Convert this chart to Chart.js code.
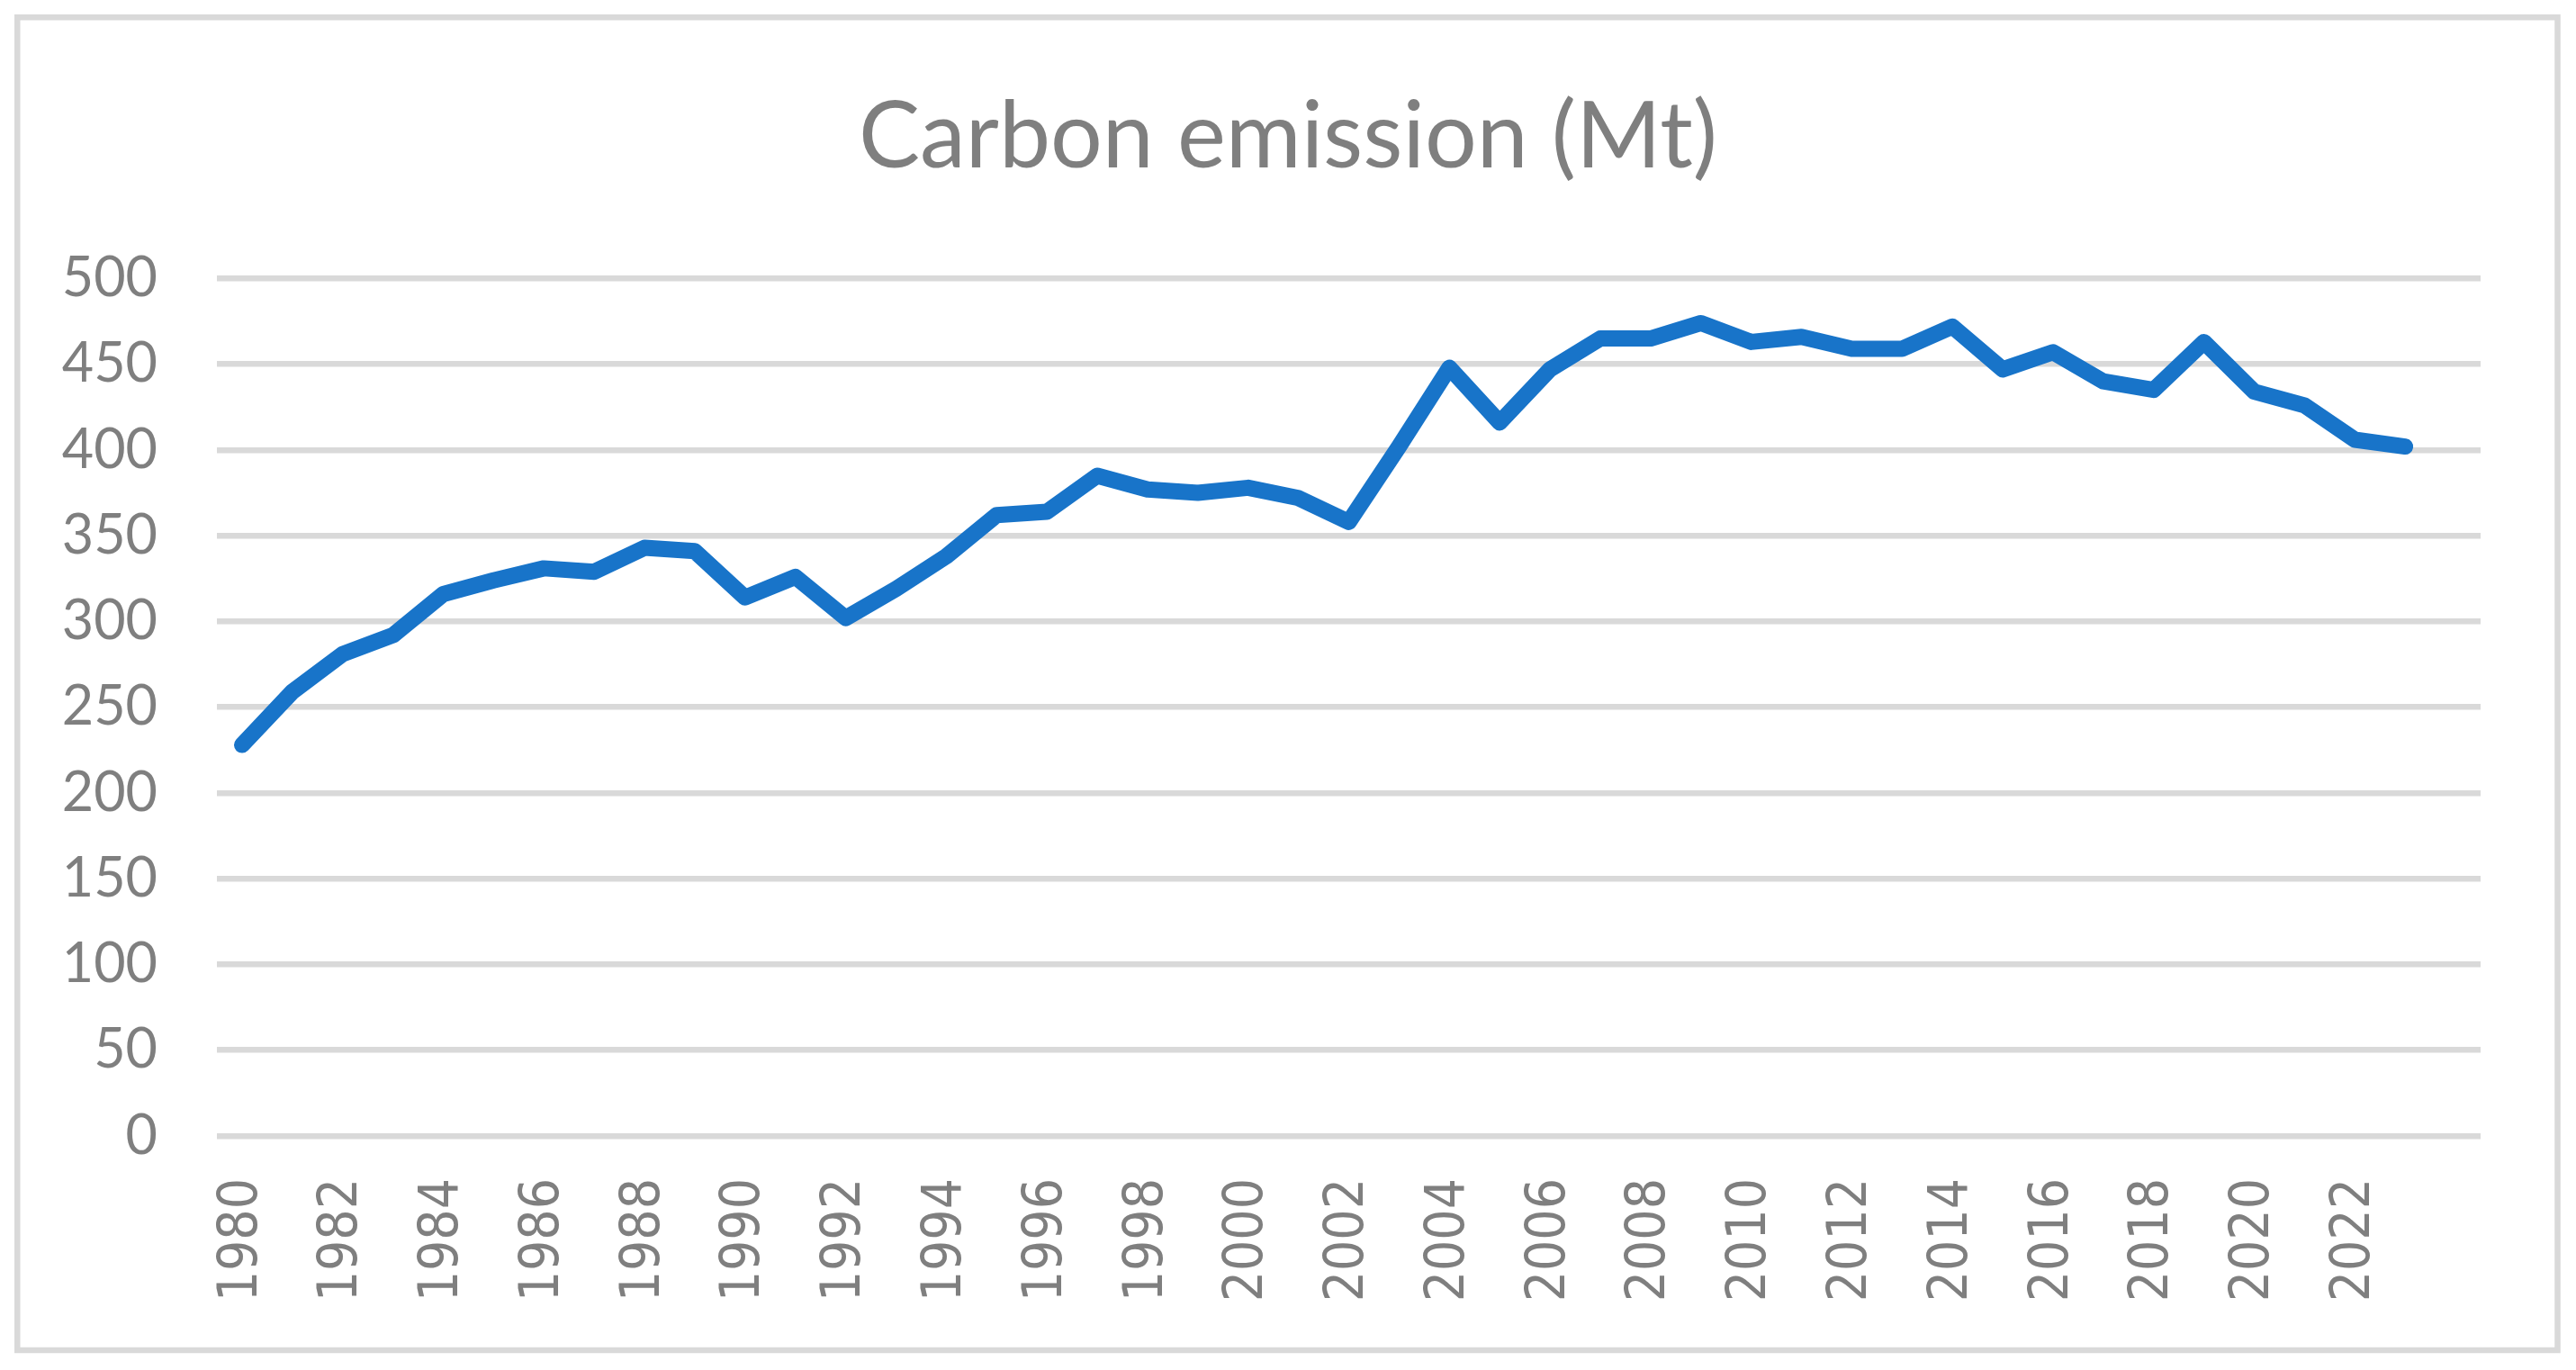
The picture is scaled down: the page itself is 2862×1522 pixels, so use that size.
<!DOCTYPE html>
<html>
<head>
<meta charset="utf-8">
<style>
  html, body { margin: 0; padding: 0; background: #ffffff; }
  #wrap { width: 2862px; height: 1522px; }
</style>
<script src="https://cdn.jsdelivr.net/npm/chart.js@4"></script>
</head>
<body>
<div id="wrap"><canvas id="c" width="2862" height="1522"></canvas></div>
<script>
// ---- data ----
const years = [
  '1980','1981','1982','1983','1984','1985','1986','1987','1988','1989',
  '1990','1991','1992','1993','1994','1995','1996','1997','1998','1999',
  '2000','2001','2002','2003','2004','2005','2006','2007','2008','2009',
  '2010','2011','2012','2013','2014','2015','2016','2017','2018','2019',
  '2020','2021','2022','2023',''
];
const emissions = [
  228, 259, 281, 292, 316, 324, 331, 329, 343, 341,
  314, 326, 302, 319, 338, 362, 364, 385, 377, 375,
  378, 372, 358, 402, 448, 416, 447, 465, 465, 474,
  463, 466, 459, 459, 472, 447, 457, 440, 435, 463,
  434, 426, 406, 402, null
];
const titleText = 'Carbon emission (Mt)';
const yMin = 0, yMax = 500, yStep = 50;

const textGray = '#7f7f7f';
const gridGray = '#d9d9d9';

const framePlugin = {
  id: 'frame',
  beforeDraw(chart) {
    const ctx = chart.ctx;
    ctx.save();
    ctx.fillStyle = '#ffffff';
    ctx.fillRect(0, 0, chart.width, chart.height);
    ctx.strokeStyle = gridGray;
    ctx.lineWidth = 6.5;
    ctx.strokeRect(19.25, 19.25, 2822.25, 1480.75);
    ctx.restore();
  }
};

new Chart(document.getElementById('c'), {
  type: 'line',
  data: {
    labels: years,
    datasets: [{
      label: titleText,
      data: emissions,
      yAxisID: 'y',
      borderColor: '#1874c9',
      backgroundColor: '#1874c9',
      borderWidth: 18,
      borderCapStyle: 'round',
      borderJoinStyle: 'round',
      pointRadius: 0,
      pointHoverRadius: 0,
      tension: 0,
      spanGaps: false
    }]
  },
  options: {
    responsive: false,
    devicePixelRatio: 1,
    animation: false,
    layout: { padding: { left: 41, right: 41, top: 0, bottom: 60 } },
    plugins: {
      legend: { display: false },
      tooltip: { enabled: false },
      title: {
        display: true,
        text: titleText,
        color: textGray,
        font: { family: 'Lato, "Open Sans", sans-serif', size: 102, weight: 'normal' },
        padding: { top: 92, bottom: 95 }
      }
    },
    scales: {
      x: {
        type: 'category',
        offset: true,
        grid: { display: false, drawTicks: false },
        border: { display: false },
        ticks: {
          autoSkip: false,
          maxRotation: 90,
          minRotation: 90,
          padding: 47,
          color: textGray,
          font: { family: '"DejaVu Sans Condensed", "DejaVu Sans", sans-serif', size: 60 },
          callback: function(value, index) { return index % 2 === 0 ? this.getLabelForValue(value) : ''; }
        },
        afterFit(scale) { scale.height = 200; }
      },
      y: {
        min: yMin,
        max: yMax,
        grid: { color: gridGray, lineWidth: 6.5, drawTicks: false },
        border: { display: false },
        ticks: {
          stepSize: yStep,
          padding: 66,
          color: textGray,
          font: { family: 'Lato, "Open Sans", sans-serif', size: 61 }
        },
        afterFit(scale) { scale.width = 200; }
      },
      yRight: {
        position: 'right',
        display: true,
        min: yMin,
        max: yMax,
        grid: { display: false, drawTicks: false },
        border: { display: false },
        ticks: { display: false },
        afterFit(scale) { scale.width = 65; }
      }
    }
  },
  plugins: [framePlugin]
});
</script>
</body>
</html>
